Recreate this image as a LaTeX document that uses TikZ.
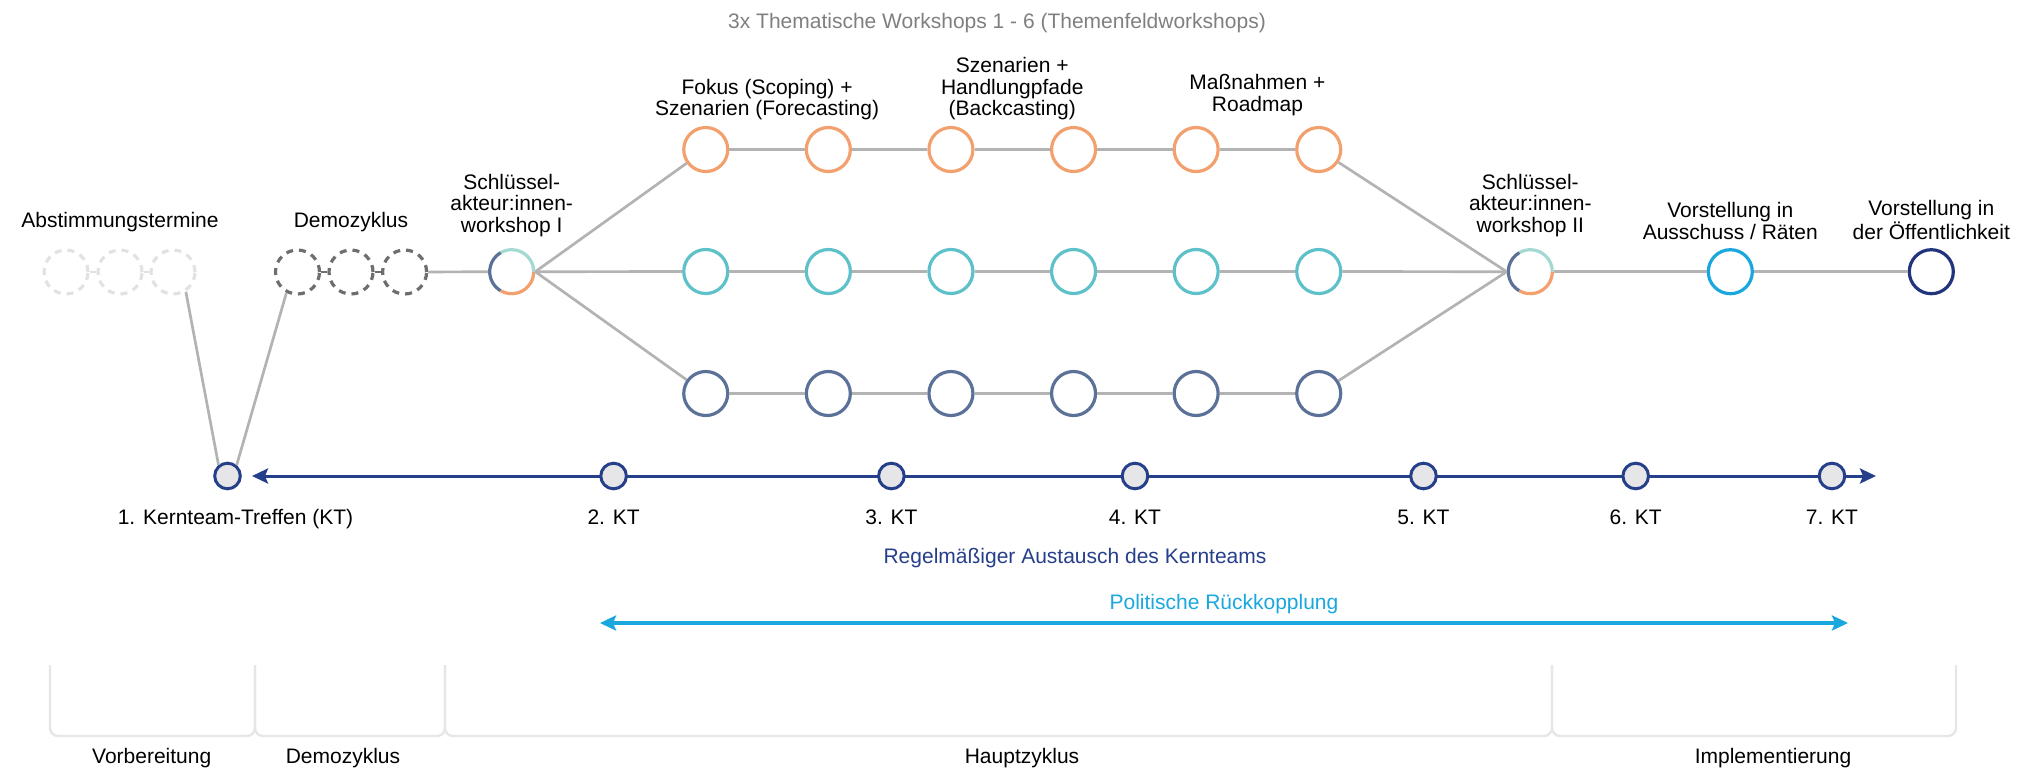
\documentclass[tikz,border=0pt]{standalone}
\usepackage{fontspec}
\setmainfont{Liberation Sans}
\usepackage{tikz}
\usetikzlibrary{positioning, matrix, calc, arrows.meta}
\definecolor{wsorange}{HTML}{F2A06E}
\definecolor{wsteal}{HTML}{5EC1C9}
\definecolor{wsslate}{HTML}{5B7198}
\definecolor{keyteal}{HTML}{A3D9D2}
\definecolor{vcyan}{HTML}{1AA7DE}
\definecolor{vnavy}{HTML}{22357C}
\definecolor{ktnavy}{HTML}{263F8B}
\definecolor{ktfill}{HTML}{E6E6E8}
\definecolor{linkgray}{HTML}{B3B3B3}
\definecolor{dashlight}{HTML}{E2E2E2}
\definecolor{dashdark}{HTML}{6E6E6E}
\definecolor{bracegray}{HTML}{E6E6E6}
\definecolor{titlegray}{HTML}{7F7F7F}
\tikzset{
    ws nodes/.style={
        circle,
        draw,
        line width=1.6pt,
        minimum size=22pt,
        inner sep=0pt
    },
    ws grid/.style={
        matrix of nodes,
        row sep=37.4pt,
        column sep=37.7pt,
        nodes={ws nodes},
        nodes in empty cells,
        row 1/.style={nodes={draw=wsorange}},
        row 2/.style={nodes={draw=wsteal}},
        row 3/.style={nodes={draw=wsslate}}
    },
    dash nodes/.style={
        ws nodes,
        dash pattern=on 3.5pt off 3pt
    },
    kt nodes/.style={
        circle,
        draw=ktnavy,
        fill=ktfill,
        line width=1.5pt,
        minimum size=12.8pt,
        inner sep=0pt
    },
    link/.style={draw=linkgray, line width=1.35pt},
    lab/.style={align=center, inner sep=0pt},
    kt label/.style={inner sep=0pt, text height=8pt, text depth=2.2pt},
    ktip/.tip={Stealth[length=8pt, width=7.5pt, inset=1.5pt]}
}

\begin{document}
\begin{tikzpicture}[x=0.5pt, y=-0.5pt, font=\fontsize{10.5}{10.8}\selectfont]
    \useasboundingbox (0,0) rectangle (2036,773);

    \node[anchor=base, text=titlegray] (title) at (997,28)
        {3x Thematische Workshops 1 - 6 (Themenfeldworkshops)};

    % Kernteam timeline
    \coordinate (tl) at (252,476);
    \coordinate (tr) at (1876,476);
    \draw[ktnavy, line width=1.5pt, ktip-ktip] (tl) -- (tr);
    \foreach \i/\x in {1/227.5,2/613.6,3/891.4,4/1135,5/1423.5,6/1635.7,7/1832}
        \node[kt nodes] (KT\i) at (\x,476) {};
    \node[kt label, below=8.8pt of KT1, xshift=4pt] (KT1 lab) {1. Kernteam-Treffen (KT)};
    \foreach \i in {2,...,7}
        \node[kt label, below=8.8pt of KT\i] (KT\i lab) {\i. KT};
    \node[anchor=base, text=ktnavy] (austausch) at (1075,563)
        {Regelmäßiger Austausch des Kernteams};

    % Vorbereitung + Demozyklus
    \foreach \i/\x in {1/66,2/120,3/173}
        \node[dash nodes, draw=dashlight] (A\i) at (\x,272) {};
    \foreach \i/\x in {1/297.5,2/351,3/404.6}
        \node[dash nodes, draw=dashdark] (D\i) at (\x,272) {};
    \draw[dashlight, line width=1.35pt] (A1) -- (A2) (A2) -- (A3);
    \draw[dashdark, line width=1.35pt] (D1) -- (D2) (D2) -- (D3);
    \node[lab, above=8pt of A2] (A lab) {Abstimmungstermine};
    \node[lab, above=8pt of D2] (D lab) {Demozyklus};
    \draw[link] (A3.-57) -- (KT1.129);
    \draw[link] (D1.-118) -- (KT1.50);

    % Hauptzyklus
    \matrix[ws grid] (W) at (1012.25,271.5)
    {  & & & & & \\
       & & & & & \\
       & & & & & \\
    };
    \node[ws nodes, draw=none] (S1) at (511.7,271.7) {};
    \node[ws nodes, draw=none] (S2) at (1530.3,271.7) {};
    \foreach \n in {S1,S2} {
        \draw[keyteal, line width=1.6pt] (\n.center) ++(0:11pt) arc[start angle=0, end angle=120, radius=11pt];
        \draw[wsslate, line width=1.6pt] (\n.center) ++(120:11pt) arc[start angle=120, end angle=240, radius=11pt];
        \draw[wsorange, line width=1.6pt] (\n.center) ++(240:11pt) arc[start angle=240, end angle=360, radius=11pt];
    }
    \node[ws nodes, draw=vcyan] (V1) at (1730.3,271.7) {};
    \node[ws nodes, draw=vnavy] (V2) at (1931.3,271.7) {};

    \draw[link] (D3) -- (S1);
    \foreach \r in {1,2,3} {
        \draw[link] (S1.east) -- (W-\r-1);
        \draw[link] (W-\r-6) -- (S2.west);
        \foreach \c [count=\d from 2] in {1,...,5}
            \draw[link] (W-\r-\c) -- (W-\r-\d);
    }
    \draw[link] (S2) -- (V1) -- (V2);

    \node[lab, above=5.5pt of S1] (S1 lab) {Schlüssel-\\akteur:innen-\\workshop I};
    \node[lab, above=5.5pt of S2] (S2 lab) {Schlüssel-\\akteur:innen-\\workshop II};
    \node[lab, above=4pt of V1] (V1 lab) {Vorstellung in\\Ausschuss / Räten};
    \node[lab, above=4pt of V2] (V2 lab) {Vorstellung in\\der Öffentlichkeit};
    \coordinate (g1) at ($(W-1-1.north)!.5!(W-1-2.north)$);
    \coordinate (g2) at ($(W-1-3.north)!.5!(W-1-4.north)$);
    \coordinate (g3) at ($(W-1-5.north)!.5!(W-1-6.north)$);
    \node[lab, above=2.7pt of g1] (g1 lab) {Fokus (Scoping) +\\Szenarien (Forecasting)};
    \node[lab, above=2.7pt of g2] (g2 lab) {Szenarien +\\Handlungpfade\\(Backcasting)};
    \node[lab, above=5pt of g3] (g3 lab) {Maßnahmen +\\Roadmap};

    % politische Rueckkopplung
    \coordinate (pl) at (600,623);
    \coordinate (pr) at (1848,623);
    \draw[vcyan, line width=1.7pt, ktip-ktip] (pl) -- (pr)
        node[midway, above=3.8pt, inner sep=0pt, text=vcyan] (pol) {Politische Rückkopplung};

    % Phasen
    \foreach \a/\b/\m/\t [count=\k] in {50/255/151.7/Vorbereitung, 255/445/343/Demozyklus,
                                       445/1552/1022/Hauptzyklus, 1552/1956/1773/Implementierung} {
        \draw[bracegray, line width=1.2pt, rounded corners=4pt] (\a,665) -- (\a,736) -- (\b,736) -- (\b,665);
        \node[anchor=base] (ph\k) at (\m,763) {\t};
    }
\end{tikzpicture}
\end{document}
